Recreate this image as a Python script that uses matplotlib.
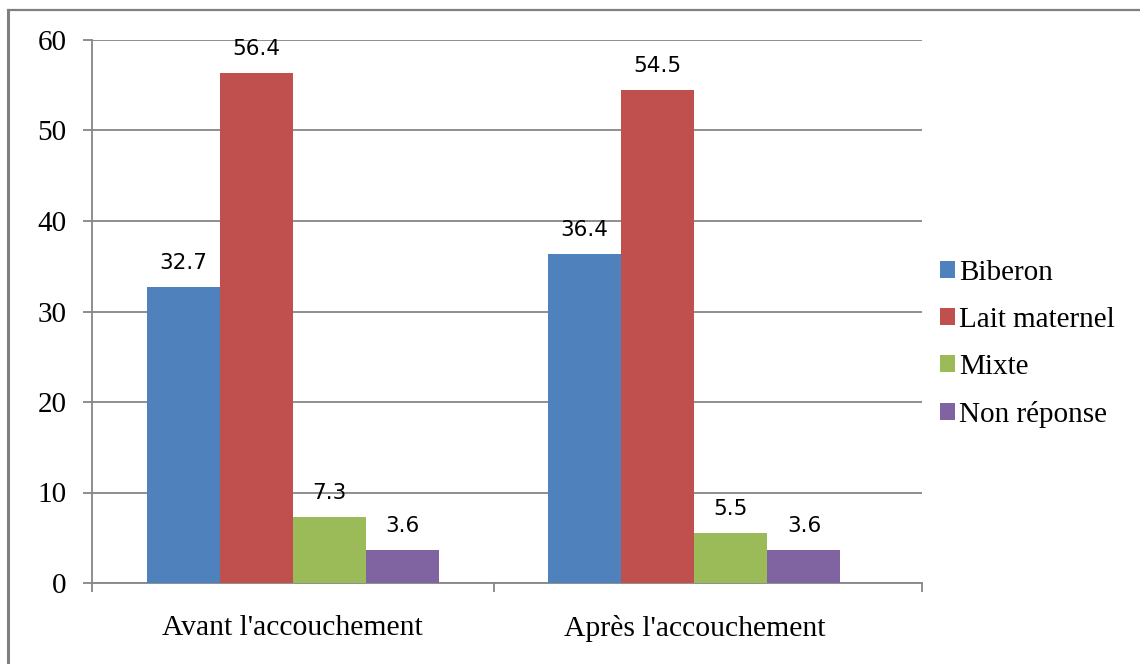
import matplotlib
matplotlib.use("Agg")
import matplotlib.pyplot as plt
from matplotlib.lines import Line2D
import numpy as np

categories = ["Avant l'accouchement", "Après l'accouchement"]
series = ["Biberon", "Lait maternel", "Mixte", "Non réponse"]
biberon = [32.7, 36.4]
lait_maternel = [56.4, 54.5]
mixte = [7.3, 5.5]
non_reponse = [3.6, 3.6]
yticks = [0, 10, 20, 30, 40, 50, 60]

values = [biberon, lait_maternel, mixte, non_reponse]
colors = ["#4F81BD", "#C0504D", "#9BBB59", "#8064A2"]

W, H = 1140, 664
fig = plt.figure(figsize=(W / 100, H / 100), dpi=100)
fig.patch.set_facecolor("white")
ax = fig.add_axes([92 / W, 1 - 583 / H, (922 - 92) / W, (583 - 40) / H])

x = np.arange(len(categories))
bw = 0.182
offsets = (np.arange(len(series)) - 1.5) * bw
for vals, col, name, off in zip(values, colors, series, offsets):
    bars = ax.bar(x + off, vals, width=bw, color=col, label=name, zorder=3)
    for b, v in zip(bars, vals):
        ax.annotate(f"{v}", (b.get_x() + b.get_width() / 2, v),
                    xytext=(0, 14), textcoords="offset pixels",
                    ha="center", va="bottom", fontsize=15.5,
                    family="DejaVu Sans", color="#000000")

gcol = "#868686"
ax.set_ylim(0, 60)
ax.set_xlim(-0.5, 1.567)
ax.set_yticks(yticks)
ax.yaxis.grid(True, color=gcol, linewidth=1.3, zorder=0)
ax.set_axisbelow(True)
for s in ["top", "right"]:
    ax.spines[s].set_visible(False)
for s in ["left", "bottom"]:
    ax.spines[s].set_color(gcol)
    ax.spines[s].set_linewidth(1.3)

ax.tick_params(axis="y", length=6.5, width=1.3, color=gcol, pad=12,
               labelsize=21, labelfontfamily="Liberation Serif")
ax.set_xticks(x)
ax.set_xticklabels(categories, fontsize=21.3, family="Liberation Serif")
ax.tick_params(axis="x", which="major", length=0, pad=23)
ax.set_xticks([-0.5, 0.5, 1.567], minor=True)
ax.tick_params(axis="x", which="minor", length=6.5, width=1.3, color=gcol)

leg = ax.legend(loc="center left", bbox_to_anchor=(914 / W, 1 - 344 / H),
                bbox_transform=fig.transFigure, frameon=False,
                prop={"family": "Liberation Serif", "size": 21},
                handlelength=0.5, handleheight=0.5, handletextpad=0.15,
                labelspacing=0.72)

# outer frame (top and left edges)
fig.add_artist(Line2D([8 / W, 1], [1 - 10 / H, 1 - 10 / H], color="#808080",
                      linewidth=1.6, transform=fig.transFigure))
fig.add_artist(Line2D([8 / W, 8 / W], [0, 1 - 10 / H], color="#808080",
                      linewidth=2.2, transform=fig.transFigure))

fig.savefig("out.png", dpi=100, facecolor="white")
